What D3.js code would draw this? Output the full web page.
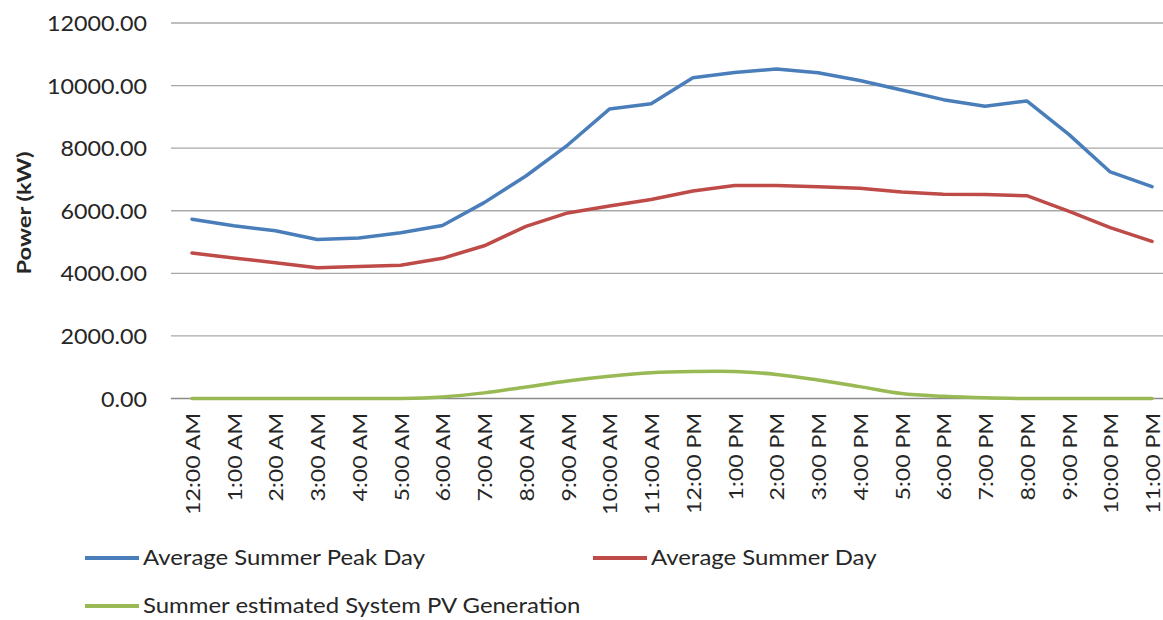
<!DOCTYPE html>
<html>
<head>
<meta charset="utf-8">
<script src="https://cdn.jsdelivr.net/npm/d3@7"></script>
<style>
  html, body { margin: 0; padding: 0; background: #fff; }
  svg { display: block; }
  text { font-family: Lato, "Open Sans", sans-serif; fill: #262626; }
</style>
</head>
<body>
<svg id="chart" width="1163" height="620"></svg>
<script>
const hours = ["12:00 AM","1:00 AM","2:00 AM","3:00 AM","4:00 AM","5:00 AM","6:00 AM","7:00 AM","8:00 AM","9:00 AM","10:00 AM","11:00 AM",
               "12:00 PM","1:00 PM","2:00 PM","3:00 PM","4:00 PM","5:00 PM","6:00 PM","7:00 PM","8:00 PM","9:00 PM","10:00 PM","11:00 PM"];
const peakDay = [5730,5520,5360,5080,5130,5300,5530,6260,7110,8100,9250,9420,
                 10250,10420,10530,10410,10160,9860,9550,9340,9510,8450,7240,6770];
const avgDay  = [4650,4490,4340,4180,4220,4260,4480,4880,5500,5930,6150,6360,
                 6630,6810,6810,6770,6720,6600,6530,6520,6480,5990,5460,5020];
const pvGen   = [0,0,0,0,0,0,50,180,370,560,710,820,
                 860,860,770,590,380,160,70,20,0,0,0,0];
const yTicks  = [0,2000,4000,6000,8000,10000,12000];
const seriesNames = ["Average Summer Peak Day","Average Summer Day","Summer estimated System PV Generation"];
const seriesColors = ["#4a7ebb","#be4b48","#98b954"];

const svg = d3.select("#chart");
const plotLeft = 171, plotRight = 1163;
const x = d3.scalePoint().domain(hours).range([192, 1152]);
const y = d3.scaleLinear().domain([0, 12000]).range([398.5, 23]);

// gridlines
svg.append("g").selectAll("line").data(yTicks).join("line")
  .attr("x1", plotLeft).attr("x2", plotRight)
  .attr("y1", d => y(d)).attr("y2", d => y(d))
  .attr("stroke", d => d === 0 ? "#8a8a8a" : "#a8a8a8")
  .attr("stroke-width", d => d === 0 ? 1.6 : 1.3);

// y tick labels
const yLab = svg.append("g").selectAll("text").data(yTicks).join("text")
  .attr("x", 147).attr("y", d => y(d) + 8)
  .attr("text-anchor", "end")
  .style("font-size", "21px")
  .text(d => d3.format(".2f")(d));
const refW = yLab.filter(d => d === 10000).node().getComputedTextLength();
const yFactor = 100 / refW;
yLab.each(function() {
  const w = this.getComputedTextLength();
  d3.select(this).attr("textLength", w * yFactor).attr("lengthAdjust", "spacingAndGlyphs");
});

// white mask at top (reference is clipped there)
svg.append("rect").attr("x", 0).attr("y", 0).attr("width", 160).attr("height", 15).attr("fill", "#fff");

// y axis title
const yt = svg.append("text")
  .attr("transform", "translate(31,213) rotate(-90)")
  .attr("text-anchor", "middle")
  .style("font-size", "19px").style("font-weight", "bold")
  .text("Power (kW)");
yt.attr("textLength", 123).attr("lengthAdjust", "spacingAndGlyphs");

// x labels
const xLab = svg.append("g").selectAll("text").data(hours).join("text")
  .attr("transform", d => `translate(${x(d) + 8},413) rotate(-90)`)
  .attr("text-anchor", "end")
  .style("font-size", "20px")
  .text(d => d);
const refX = xLab.filter(d => d === "12:00 AM").node().getComputedTextLength();
const xFactor = 102 / refX;
xLab.each(function() {
  const w = this.getComputedTextLength();
  d3.select(this).attr("textLength", w * xFactor).attr("lengthAdjust", "spacingAndGlyphs");
});

// lines
const lineLin = d3.line().x((d, i) => x(hours[i])).y(d => y(d));
const lineSmooth = d3.line().x((d, i) => x(hours[i])).y(d => y(d)).curve(d3.curveCatmullRom.alpha(0.5));
const allSeries = [peakDay, avgDay, pvGen];
allSeries.forEach((s, k) => {
  svg.append("path").datum(s)
    .attr("d", k === 2 ? lineSmooth : lineLin)
    .attr("fill", "none")
    .attr("stroke", seriesColors[k])
    .attr("stroke-width", 3.5)
    .attr("stroke-linejoin", "round")
    .attr("stroke-linecap", "round");
});

// legend
const legendPos = [{lx: 85, ty: 558}, {lx: 593, ty: 558}, {lx: 85, ty: 606}];
const legG = svg.append("g");
const legItems = legG.selectAll("g").data(seriesNames).join("g");
legItems.append("line")
  .attr("x1", (d, i) => legendPos[i].lx).attr("x2", (d, i) => legendPos[i].lx + 54)
  .attr("y1", (d, i) => legendPos[i].ty).attr("y2", (d, i) => legendPos[i].ty)
  .attr("stroke", (d, i) => seriesColors[i]).attr("stroke-width", 4);
const legText = legItems.append("text")
  .attr("x", (d, i) => legendPos[i].lx + 58)
  .attr("y", (d, i) => legendPos[i].ty + 7)
  .style("font-size", "21px")
  .text(d => d);
const refL = legText.filter((d, i) => i === 0).node().getComputedTextLength();
const lFactor = 282 / refL;
legText.each(function() {
  const w = this.getComputedTextLength();
  d3.select(this).attr("textLength", w * lFactor).attr("lengthAdjust", "spacingAndGlyphs");
});
</script>
</body>
</html>
